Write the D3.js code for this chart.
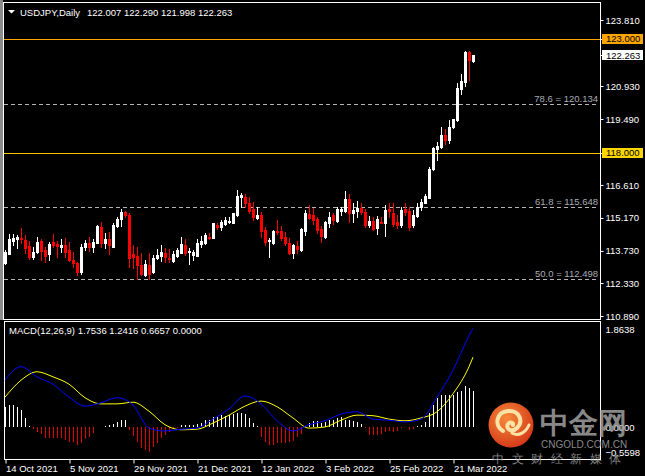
<!DOCTYPE html>
<html>
<head>
<meta charset="utf-8">
<script src="https://cdn.jsdelivr.net/npm/d3@7"></script>
<style>
  body { margin: 0; background: #000; }
  svg { display: block; }
  text { font-family: "Liberation Sans", Arial, sans-serif; }
</style>
</head>
<body>
<div id="wrapper"></div>
<script>
// daily USDJPY candles, 14 Oct 2021 .. 28 Mar 2022
const opens = [113.19,113.59,114.16,114.25,114.29,114.20,113.94,113.46,113.68,114.16,
  113.76,113.59,114.11,114.03,113.89,113.98,113.76,113.33,113.19,112.80,
  113.89,114.07,113.89,114.07,114.77,114.07,114.25,113.89,114.81,115.12,
  115.43,115.30,113.59,113.50,113.11,112.67,113.11,112.80,113.41,113.50,
  113.63,113.41,113.28,113.50,113.63,113.98,113.68,113.55,113.50,114.03,
  114.07,114.33,114.29,114.86,114.77,114.90,114.99,114.95,115.30,116.08,
  116.08,115.82,115.56,115.16,115.30,114.64,114.16,114.07,114.60,114.60,
  114.33,114.07,113.63,113.94,113.76,114.60,115.34,115.30,115.12,114.68,
  114.33,114.95,115.30,115.03,115.47,115.47,116.00,115.38,115.47,115.60,
  115.43,114.86,115.03,114.73,114.99,114.95,115.56,115.38,114.99,114.86,
  115.56,115.47,114.86,115.25,115.65,115.82,116.04,117.31,118.18,118.27,
  118.79,118.57,119.14,119.45,120.80,121.10,122.41,122.007];
const highs = [113.76,114.46,114.46,114.42,114.73,114.42,114.16,113.89,114.33,114.25,
  113.89,114.11,114.46,114.16,114.25,114.29,114.11,113.68,113.24,114.03,
  114.20,114.33,114.25,114.86,114.99,114.51,114.55,114.95,115.21,115.56,
  115.47,115.38,113.98,113.89,113.63,113.33,113.63,113.55,113.81,113.98,
  113.85,113.81,113.72,113.85,114.33,114.25,113.85,113.76,114.25,114.38,
  114.51,114.51,114.95,114.95,115.08,115.21,115.21,115.38,116.39,116.26,
  116.22,116.08,115.87,115.65,115.43,114.77,114.29,114.64,115.08,114.81,
  114.55,114.29,114.03,114.16,114.73,115.52,115.74,115.60,115.21,114.81,
  115.03,115.43,115.38,115.65,115.65,116.35,116.22,115.82,115.91,115.82,
  115.56,115.25,115.21,115.25,115.21,115.74,115.82,115.82,115.30,115.65,
  115.82,115.65,115.52,115.82,116.00,116.22,117.39,118.27,118.49,119.14,
  119.05,119.45,119.49,121.06,121.45,122.46,122.46,122.290];
const lows = [113.15,113.59,113.98,113.85,114.07,113.63,113.37,113.37,113.63,113.33,
  113.24,113.33,113.89,113.46,113.68,113.46,113.28,113.02,112.67,112.71,
  113.76,113.72,113.68,114.07,113.89,113.85,113.59,113.89,114.77,114.81,
  115.21,113.02,112.98,112.49,112.67,112.62,112.49,112.76,113.37,113.28,
  113.24,113.24,113.24,113.46,113.63,113.55,113.15,113.33,113.50,113.89,
  114.03,114.27,114.29,114.68,114.64,114.86,114.97,114.95,115.25,115.65,
  115.65,115.38,115.08,115.12,114.33,113.98,113.46,114.03,114.46,114.20,
  113.98,113.59,113.41,113.63,113.72,114.42,115.12,114.90,114.51,114.11,
  114.29,114.77,114.90,114.99,115.30,115.43,114.99,114.99,115.21,115.34,
  114.77,114.77,114.64,114.46,114.95,114.38,115.21,114.81,114.73,114.77,
  115.30,114.64,114.77,115.21,115.52,115.82,116.04,117.26,117.70,118.22,
  118.40,118.44,119.10,119.40,120.58,120.93,121.19,121.998];
const closes = [113.68,114.25,114.29,114.33,114.25,113.85,113.46,113.68,114.11,113.72,
  113.50,114.03,113.98,113.94,113.98,113.68,113.33,113.19,112.80,113.89,
  114.07,113.89,114.11,114.81,114.07,114.25,113.98,114.86,115.12,115.43,
  115.30,113.41,113.46,113.11,112.71,113.15,112.71,113.41,113.55,113.68,
  113.46,113.37,113.59,113.76,114.03,113.63,113.72,113.68,114.07,114.16,
  114.42,114.29,114.95,114.77,114.99,115.08,115.03,115.38,116.13,116.17,
  115.82,115.47,115.21,115.30,114.60,114.11,114.20,114.60,114.55,114.29,
  114.07,113.63,113.98,113.81,114.68,115.38,115.16,115.08,114.64,114.38,
  114.99,115.21,115.08,115.56,115.56,116.00,115.38,115.52,115.60,115.43,
  114.86,115.03,114.68,115.12,114.97,115.52,115.47,114.90,114.86,115.52,
  115.43,114.77,115.30,115.65,115.87,116.13,117.31,118.22,118.31,118.79,
  118.57,119.14,119.49,120.84,121.15,122.41,122.06,122.263];

// MACD lines read every 4th bar
const macdBars = [0,4,8,12,16,20,24,28,32,36,40,44,48,52,56,60,64,68,72,76,80,84,88,92,96,100,104,108,112,116,117];
const macdMain = [0.83,1.07,0.89,0.76,0.53,0.37,0.43,0.52,0.39,-0.02,-0.07,-0.04,-0.02,0.14,0.32,0.55,
  0.41,0.11,-0.07,0.04,0.11,0.23,0.27,0.14,0.12,0.09,0.14,0.53,1.01,1.62,1.75];
const macdSignal = [0.53,0.83,0.98,0.89,0.76,0.52,0.41,0.41,0.44,0.28,0.04,-0.05,-0.04,0.07,0.21,0.37,
  0.46,0.36,0.16,-0.02,0.00,0.12,0.21,0.20,0.14,0.11,0.16,0.27,0.59,1.07,1.24];
const macdHist = [0.36,0.39,0.39,0.36,0.30,0.16,0.02,-0.04,-0.09,-0.12,
  -0.20,-0.20,-0.20,-0.20,-0.20,-0.23,-0.27,-0.27,-0.32,-0.28,
  -0.21,-0.18,-0.11,0,0,0.02,0.03,0.05,0.09,0.12,
  0.12,-0.05,-0.16,-0.27,-0.37,-0.41,-0.44,-0.36,-0.29,-0.20,
  -0.14,-0.09,-0.04,-0.01,0.04,0.04,0.04,0.03,0.05,0.07,
  0.12,0.12,0.17,0.18,0.21,0.19,0.21,0.23,0.25,0.25,
  0.23,0.16,0.07,0.02,-0.18,-0.27,-0.32,-0.32,-0.29,-0.29,
  -0.29,-0.27,-0.25,-0.18,-0.12,0.01,0.07,0.11,0.11,0.07,
  0.09,0.12,0.12,0.16,0.17,0.12,0.12,0.11,0.09,0.05,
  -0.02,-0.14,-0.14,-0.14,-0.12,-0.09,-0.07,-0.09,-0.07,-0.01,
  0,-0.05,-0.04,0.01,0.04,0.09,0.25,0.39,0.52,0.57,
  0.57,0.57,0.57,0.62,0.64,0.73,0.69,0.64];
const macdHeader = ["1.7536","1.2416","0.6657","0.0000"];

const priceTicks = [123.81,120.93,119.49,116.61,115.17,113.73,112.33,110.89];
const dateTickBars = [0,16,32,48,64,80,96,112];
const fibPct = ["78.6","61.8","50.0"];
const fibValues = [120.134,115.648,112.498];
const levelValues = [123.0,118.0];
const levelColors = ["#ffa500","#ffc400"];
const levelBoxColors = ["#ffa500","#ffd700"];
const macdTicks = [1.8638,0,-0.5598];

const dates = d3.timeDay.range(new Date(2021,9,14), new Date(2022,2,29))
  .filter(d => d.getDay() !== 0 && d.getDay() !== 6);

const width = 645, height = 476;
const frame = { left: 3.5, right: 600.5, top: 2.5, mainBottom: 319.5, macdTop: 321.5, macdBottom: 459.5 };

const svg = d3.select("#wrapper").append("svg")
  .attr("width", width).attr("height", height)
  .style("background", "#000");

const xScale = d3.scaleLinear().domain([0, dates.length - 1]).range([5, 473]);
const yScale = d3.scaleLinear().domain([110.89, 123.81]).range([316, 20]);
const mScale = d3.scaleLinear().domain([macdTicks[2], macdTicks[0]]).range([458.5, 322]);

// window edge
svg.append("rect").attr("x", 0).attr("y", 0).attr("width", 3).attr("height", 320).attr("fill", "#8c8c8c");

// fibonacci levels
const fib = svg.append("g");
fibValues.forEach((v, i) => {
  const y = Math.round(yScale(v)) + 0.5;
  fib.append("line").attr("x1", 4).attr("x2", 597).attr("y1", y).attr("y2", y)
    .style("stroke", "#b4b4b4").attr("stroke-dasharray", "4,3");
  fib.append("text").attr("x", 598).attr("y", y - 2.5).attr("text-anchor", "end")
    .attr("font-size", 9.5).attr("fill", "#a8acb4").text(`${fibPct[i]} = ${v.toFixed(3)}`);
});

// horizontal levels
levelValues.forEach((v, i) => {
  const y = Math.round(yScale(v)) + 0.5;
  svg.append("line").attr("x1", 4).attr("x2", 600).attr("y1", y).attr("y2", y)
    .style("stroke", levelColors[i]).style("stroke-width", 1);
});

// candles
const candles = svg.append("g").attr("shape-rendering", "crispEdges");
dates.forEach((d, i) => {
  const cx = Math.round(xScale(i));
  const up = closes[i] >= opens[i];
  const col = up ? "#ffffff" : "#ff0000";
  candles.append("line")
    .attr("x1", cx + 0.5).attr("x2", cx + 0.5)
    .attr("y1", Math.round(yScale(highs[i]))).attr("y2", Math.round(yScale(lows[i])) + 1)
    .attr("stroke", col);
  const top = Math.round(yScale(Math.max(opens[i], closes[i])));
  const bot = Math.round(yScale(Math.min(opens[i], closes[i])));
  candles.append("rect")
    .attr("x", cx - 1).attr("y", top)
    .attr("width", 3).attr("height", Math.max(1, bot - top + 1))
    .attr("fill", col);
});

// frames
const frames = svg.append("g").attr("fill", "none").attr("stroke", "#fff");
frames.append("rect").attr("x", frame.left).attr("y", frame.top)
  .attr("width", frame.right - frame.left).attr("height", frame.mainBottom - frame.top);
frames.append("rect").attr("x", 4.5).attr("y", frame.macdTop)
  .attr("width", frame.right - 4.5).attr("height", frame.macdBottom - frame.macdTop);

// price axis
const yAxis = svg.append("g")
  .attr("transform", `translate(${frame.right},0)`)
  .call(d3.axisRight(yScale).tickValues(priceTicks).tickFormat(d3.format(".3f")).tickSize(3).tickPadding(2));
yAxis.select(".domain").remove();
yAxis.selectAll("line").attr("stroke", "#fff");
yAxis.selectAll("text").attr("fill", "#fff").attr("font-size", 9.5)
  .attr("font-family", "Liberation Sans, Arial, sans-serif");

// level price boxes
const boxValues = [levelValues[0], closes[117], levelValues[1]];
const boxFills = [levelBoxColors[0], "#ffffff", levelBoxColors[1]];
boxValues.forEach((v, i) => {
  const y = yScale(v);
  svg.append("line").attr("x1", 600).attr("x2", 603).attr("y1", Math.round(y) + 0.5).attr("y2", Math.round(y) + 0.5)
    .attr("stroke", "#fff");
  svg.append("rect").attr("x", 602).attr("y", Math.round(y) - 5)
    .attr("width", 41).attr("height", 10).attr("fill", boxFills[i]);
  svg.append("text").attr("x", 606).attr("y", y).attr("dy", "0.35em")
    .attr("font-size", 9.5).attr("fill", "#000").text(v.toFixed(3));
});

// header
svg.append("path").attr("d", "M8,10 L15,10 L11.5,13.5 Z").attr("fill", "#fff");
svg.append("text").attr("x", 20).attr("y", 16).attr("font-size", 9.5).attr("fill", "#fff")
  .text("USDJPY,Daily");
svg.append("text").attr("x", 87).attr("y", 16).attr("font-size", 9.5).attr("fill", "#fff")
  .text(`${opens[117].toFixed(3)} ${highs[117].toFixed(3)} ${lows[117].toFixed(3)} ${closes[117].toFixed(3)}`);

// MACD panel
const hist = svg.append("g").attr("shape-rendering", "crispEdges");
macdHist.forEach((v, i) => {
  if (v === 0) return;
  const cx = Math.round(xScale(i));
  hist.append("rect")
    .attr("x", cx).attr("width", 1)
    .attr("y", Math.round(Math.min(mScale(v), mScale(0))))
    .attr("height", Math.max(1, Math.round(Math.abs(mScale(v) - mScale(0)))))
    .attr("fill", v > 0 ? "#ffffff" : "#e00000");
});

const lineGen = vals => d3.line()
  .x((d, i) => xScale(macdBars[i]))
  .y(d => mScale(d))
  .curve(d3.curveMonotoneX)(vals);
svg.append("path").attr("d", lineGen(macdSignal)).attr("fill", "none").attr("stroke", "#ffff00");
svg.append("path").attr("d", lineGen(macdMain)).attr("fill", "none").attr("stroke", "#0000ff");

svg.append("text").attr("x", 9).attr("y", 334).attr("font-size", 9.5).attr("fill", "#fff")
  .text(`MACD(12,26,9) ${macdHeader.join(" ")}`);

// MACD scale labels
const mAxis = svg.append("g")
  .attr("transform", `translate(${frame.right},0)`)
  .call(d3.axisRight(mScale).tickValues(macdTicks).tickFormat(d3.format(".4f")).tickSize(0).tickPadding(5));
mAxis.select(".domain").remove();
mAxis.selectAll("text").attr("fill", "#fff").attr("font-size", 9.5)
  .attr("font-family", "Liberation Sans, Arial, sans-serif")
  .attr("y", (d, i) => [7, 0, -6][i]);

// date axis
const xAxis = svg.append("g")
  .attr("transform", `translate(0.5,${frame.macdBottom})`)
  .call(d3.axisBottom(xScale).tickValues(dateTickBars).tickSize(4)
    .tickFormat(i => d3.timeFormat("%-d %b %Y")(dates[i])));
xAxis.select(".domain").remove();
xAxis.selectAll("line").attr("stroke", "#fff");
xAxis.selectAll("text").attr("fill", "#fff").attr("font-size", 9.5)
  .attr("font-family", "Liberation Sans, Arial, sans-serif")
  .attr("text-anchor", "start").attr("x", 0).attr("y", 6).attr("dy", "0.71em");

// watermark
const wm = svg.append("g");
const grad = svg.append("defs").append("radialGradient").attr("id", "wmg")
  .attr("cx", "40%").attr("cy", "35%").attr("r", "65%");
grad.append("stop").attr("offset", "0%").attr("stop-color", "#f58a3a");
grad.append("stop").attr("offset", "100%").attr("stop-color", "#d63c1a");
wm.append("circle").attr("cx", 511).attr("cy", 425).attr("r", 22.5).attr("fill", "url(#wmg)");
wm.append("path")
  .attr("d", "M503,431 C494,426 496,412 508,411 C519,410 524,421 517,428 C512,433 505,429 508,424 C510,421 514,423 513,425")
  .attr("fill", "none").attr("stroke", "#fde2a6").attr("stroke-width", 4).attr("stroke-linecap", "round");
wm.append("path")
  .attr("d", "M512,433 C519,437 526,432 529,425")
  .attr("fill", "none").attr("stroke", "#fde2a6").attr("stroke-width", 3).attr("stroke-linecap", "round");
wm.append("text").attr("x", 540).attr("y", 433).attr("font-size", 29).attr("font-weight", "bold")
  .attr("font-family", "Noto Sans CJK SC").attr("fill", "#a0a0a0").attr("opacity", 0.85).text("中金网");
wm.append("text").attr("x", 541).attr("y", 448).attr("font-size", 10)
  .attr("fill", "#a0a0a0").attr("opacity", 0.85).text("CNGOLD.COM.CN");
wm.append("text").attr("x", 492).attr("y", 463).attr("font-size", 12).attr("letter-spacing", 7.5)
  .attr("font-family", "Noto Sans CJK SC").attr("fill", "#a0a0a0").attr("opacity", 0.8).text("中文财经新媒体");
</script>
</body>
</html>
